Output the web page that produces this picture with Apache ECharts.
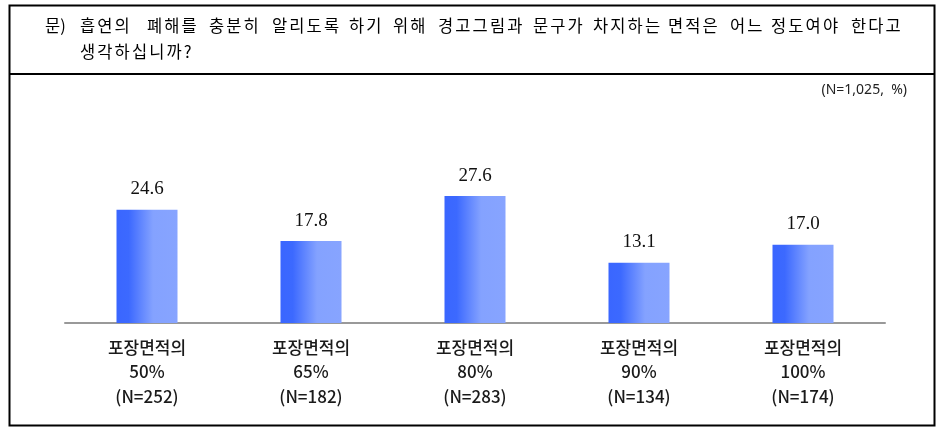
<!DOCTYPE html>
<html><head><meta charset="utf-8">
<script src="https://cdn.jsdelivr.net/npm/echarts@6/dist/echarts.min.js"></script>
<style>html,body{margin:0;padding:0;background:#fff}#c{width:950px;height:439px}</style>
</head><body><div id="c"></div>
<script>
const questionLabel = '문)';
const questionLines = ['흡연의 폐해를 충분히 알리도록 하기 위해 경고그림과 문구가 차지하는 면적은 어느 정도여야 한다고', '생각하십니까?'];
const noteText = '(N=1,025,  %)';
const categories = ['포장면적의\n50%\n(N=252)', '포장면적의\n65%\n(N=182)', '포장면적의\n80%\n(N=283)', '포장면적의\n90%\n(N=134)', '포장면적의\n100%\n(N=174)'];
const values = [24.6, 17.8, 27.6, 13.1, 17.0];

// layout: start x of each word of the first question line, and a fixed glyph advance,
// to mimic the monospaced Hangul typeface of the original
const wordX = [80, 147, 209, 272, 349, 393, 438, 533, 593, 668, 730, 771, 851];
const advance = 17.3;
const titleFont = { fontSize: 16.5, fontFamily: 'Noto Sans CJK KR', fill: '#000' };

const graphics = [
  { type: 'rect', shape: { x: 9.5, y: 5.5, width: 925, height: 420 }, style: { fill: 'none', stroke: '#000', lineWidth: 2 } },
  { type: 'line', shape: { x1: 9.5, y1: 74, x2: 934.5, y2: 74 }, style: { stroke: '#000', lineWidth: 2 } },
  { type: 'text', x: 45, y: 17, style: Object.assign({ text: questionLabel }, titleFont) },
  { type: 'text', right: 43, top: 83, style: { text: noteText, fontSize: 14, fontFamily: 'Noto Sans', fill: '#222' } }
];
function placeWord(word, x0, y) {
  word.split('').forEach((ch, j) => {
    graphics.push({ type: 'text', x: x0 + j * advance, y: y, style: Object.assign({ text: ch }, titleFont) });
  });
}
questionLines[0].split(' ').forEach((w, i) => placeWord(w, wordX[i], 17));
placeWord(questionLines[1], 80, 43);

const chart = echarts.init(document.getElementById('c'));
chart.setOption({
  animation: false,
  backgroundColor: '#fff',
  grid: { left: 65, right: 65, top: 185, bottom: 116 },
  xAxis: {
    type: 'category', data: categories,
    axisLine: { lineStyle: { color: '#999', width: 2 } },
    axisTick: { show: false },
    axisLabel: { color: '#1a1a1a', fontSize: 17, lineHeight: 24.5, fontFamily: 'Noto Sans CJK KR', margin: 12, fontWeight: 500 }
  },
  yAxis: { type: 'value', min: 0, max: 30, show: false, splitLine: { show: false } },
  series: [{
    type: 'bar', data: values, barWidth: 61,
    itemStyle: {
      color: new echarts.graphic.LinearGradient(0, 0, 1, 0, [
        { offset: 0, color: '#3a66ff' },
        { offset: 0.2, color: '#3c69ff' },
        { offset: 0.6, color: '#84a2ff' },
        { offset: 1, color: '#87a4ff' }
      ])
    },
    label: {
      show: true, position: 'top', distance: 11,
      formatter: p => p.value.toFixed(1),
      color: '#111', fontSize: 19, fontFamily: 'Liberation Serif'
    }
  }],
  graphic: graphics
});
</script></body></html>
